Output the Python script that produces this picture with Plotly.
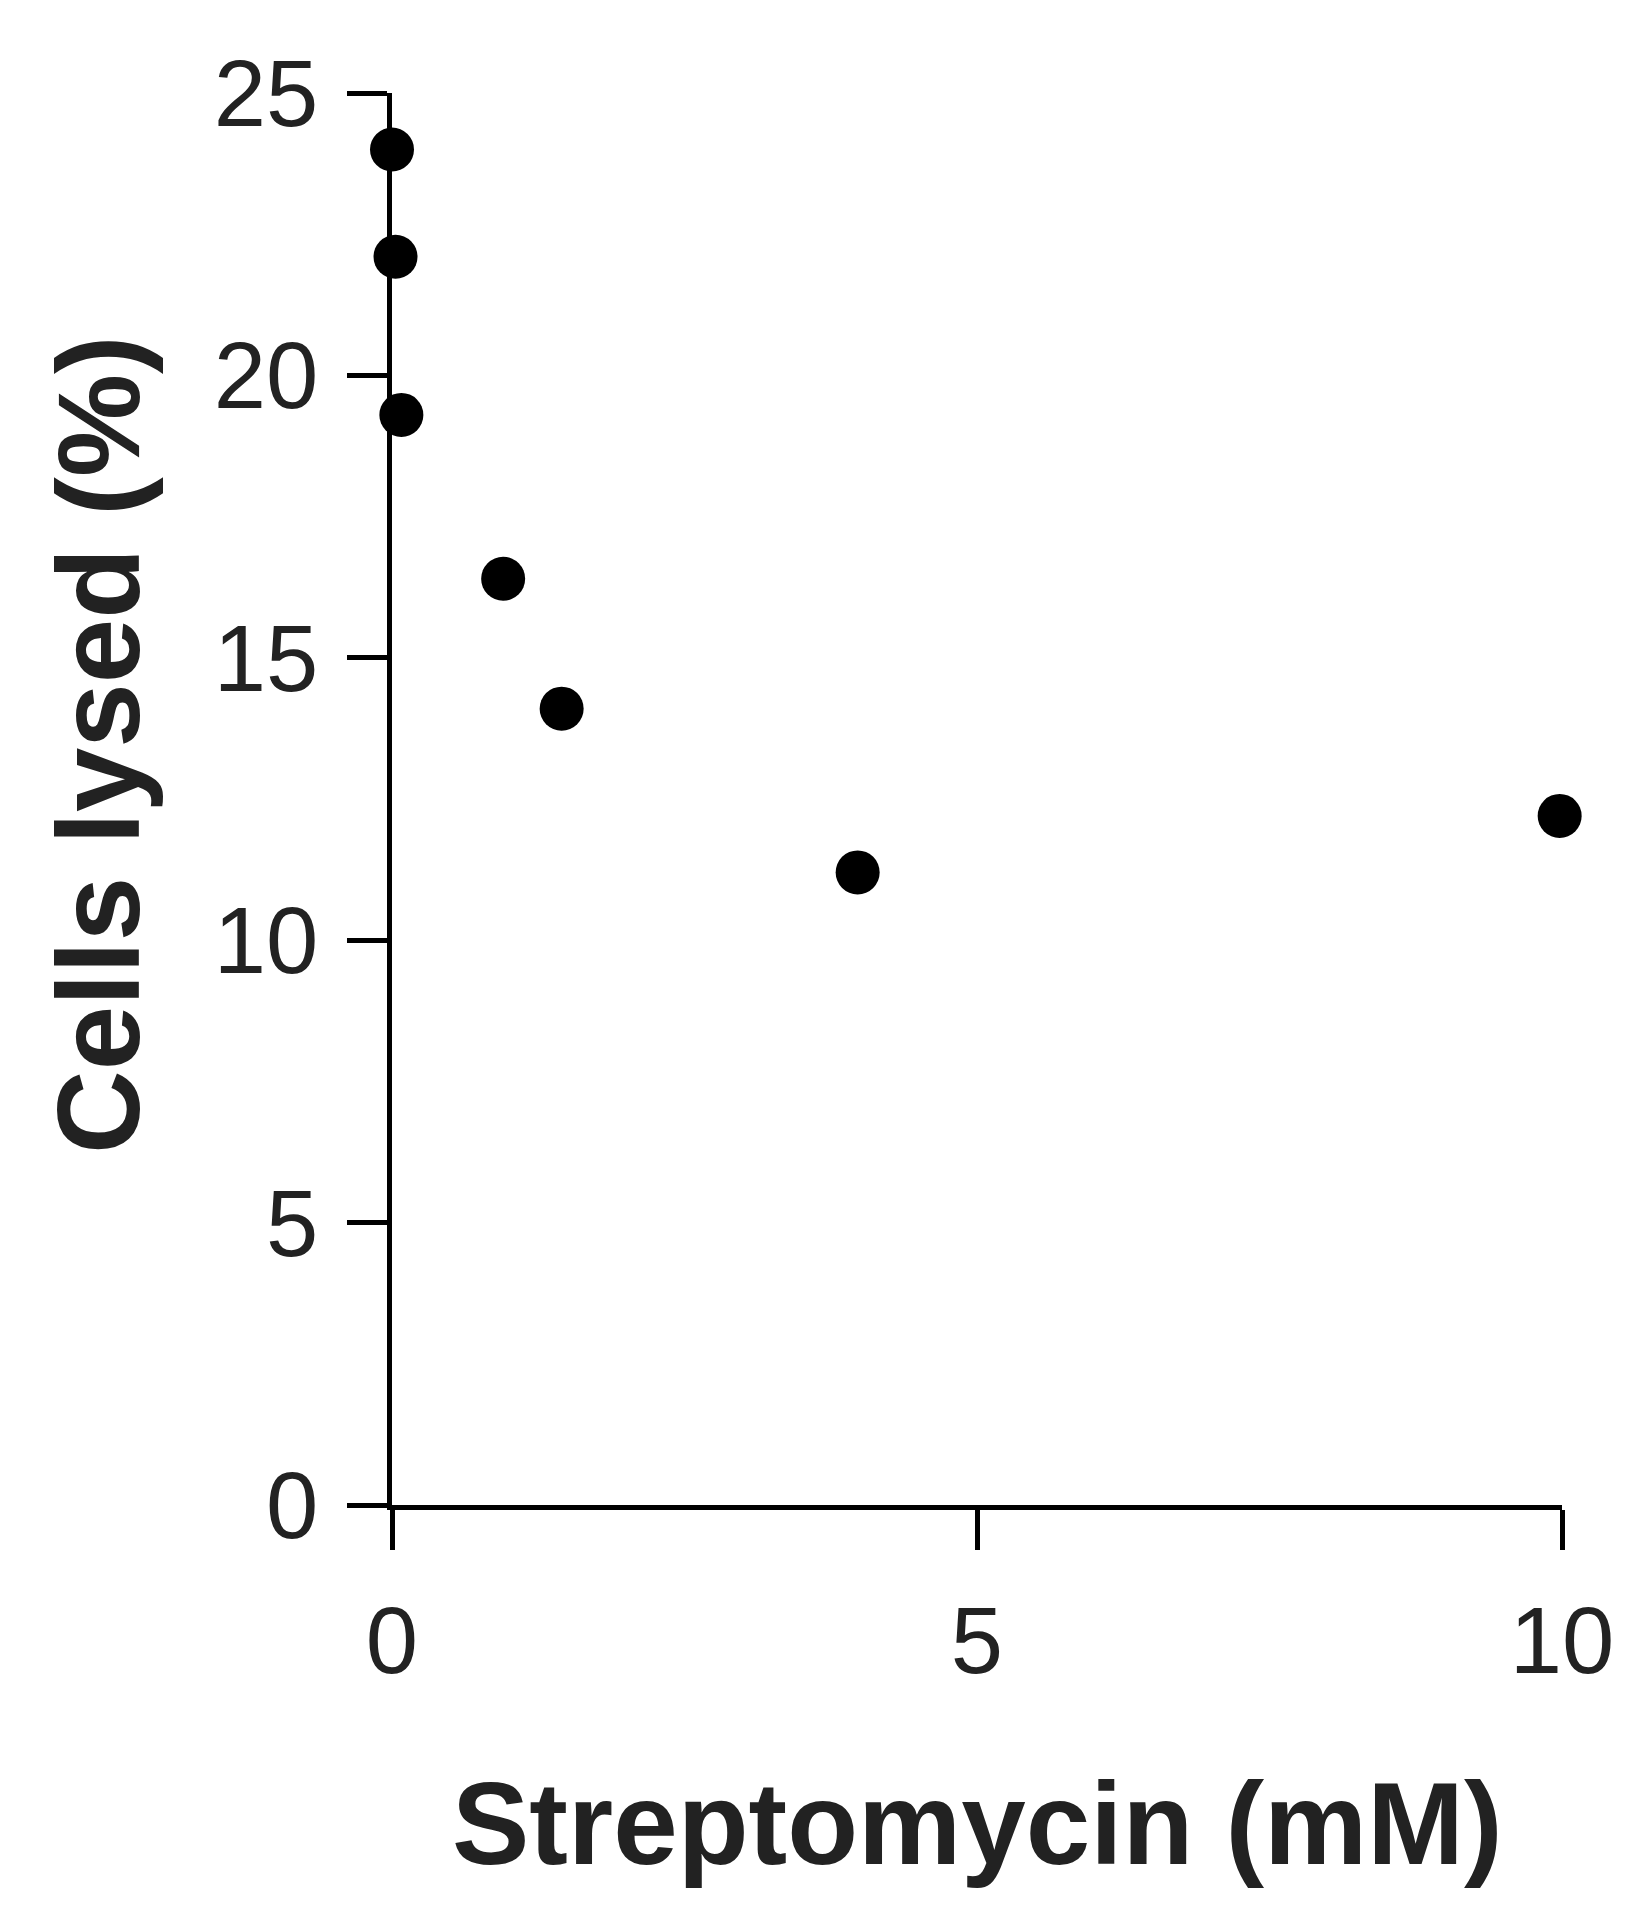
import plotly.graph_objects as go

strep_mM = [0.0, 0.03, 0.08, 0.95, 1.45, 3.98, 9.98]
lysed_pct = [24.0, 22.1, 19.3, 16.4, 14.1, 11.2, 12.2]
x_ticks = [0, 5, 10]
y_ticks = [0, 5, 10, 15, 20, 25]

W, H = 1633, 1920
L, R, T, B = 384, 79, 85, 423

fig = go.Figure(go.Scatter(x=strep_mM, y=lysed_pct, mode="markers",
                           marker=dict(size=44, color="black"), cliponaxis=False))
ax = dict(showgrid=False, zeroline=False, showline=True, linecolor="black", linewidth=5,
          ticks="outside", ticklen=40, tickwidth=5, tickcolor="black",
          tickfont=dict(family="Liberation Sans", size=94, color="#222"), ticklabelstandoff=10)
fig.update_xaxes(range=[0, 10], tickvals=x_ticks, **ax)
fig.update_yaxes(range=[0, 25], tickvals=y_ticks, **ax)
fig.update_layout(width=W, height=H, margin=dict(l=L, r=R, t=T, b=B),
                  plot_bgcolor="white", paper_bgcolor="white", showlegend=False,
                  annotations=[
                      dict(text="<b>Streptomycin (mM)</b>", xref="paper", yref="paper",
                           x=(969 - L) / (W - L - R), y=-(1816 - (H - B)) / (H - T - B),
                           showarrow=False, xanchor="center", yanchor="middle",
                           font=dict(family="Liberation Sans", size=116, color="#222")),
                      dict(text="<b>Cells lysed (%)</b>", xref="paper", yref="paper",
                           x=-(L - 91) / (W - L - R), y=(H - B - 737) / (H - T - B),
                           textangle=-90, showarrow=False, xanchor="center", yanchor="middle",
                           font=dict(family="Liberation Sans", size=116, color="#222")),
                  ])
fig.write_html("out.html")
